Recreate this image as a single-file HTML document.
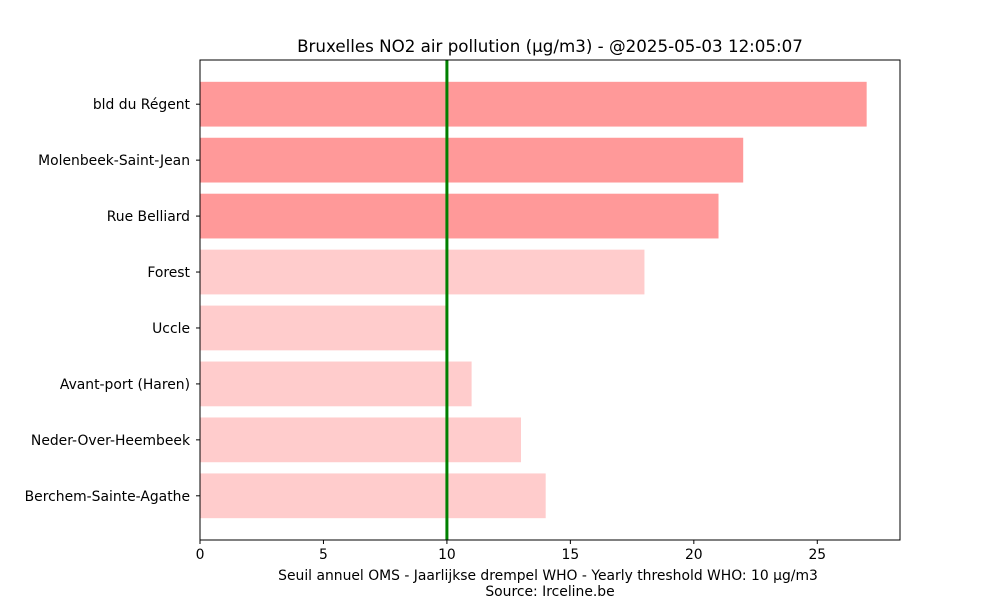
<!DOCTYPE html>
<html><head><meta charset="utf-8"><style>
body{margin:0;background:#fff;font-family:"DejaVu Sans","Liberation Sans",sans-serif}
</style></head><body>
<svg id="chart" width="1000" height="600" xmlns="http://www.w3.org/2000/svg" font-family="DejaVu Sans, Liberation Sans, sans-serif">
<rect width="1000" height="600" fill="#fff"/>
<text x="550" y="52" text-anchor="middle" font-size="16.7" fill="#000">Bruxelles NO2 air pollution (µg/m3) - @2025-05-03 12:05:07</text>
<g id="bars"></g>
<g id="xticks"></g>
<rect x="200" y="60" width="700" height="480" fill="none" stroke="#000" stroke-width="1"/>
<text x="548" y="580" text-anchor="middle" font-size="13.9">Seuil annuel OMS - Jaarlijkse drempel WHO - Yearly threshold WHO: 10 µg/m3</text>
<text x="550" y="596" text-anchor="middle" font-size="13.9">Source: Irceline.be</text>
</svg>
<script>
const categories=["bld du Régent","Molenbeek-Saint-Jean","Rue Belliard","Forest","Uccle","Avant-port (Haren)","Neder-Over-Heembeek","Berchem-Sainte-Agathe"];
const values=[27,22,21,18,10,11,13,14];
const threshold=10;
const xTicks=[0,5,10,15,20,25];
const NS="http://www.w3.org/2000/svg";
const L=200,R=900,T=60,B=540,xMax=28.35;
const x=v=>L+v/xMax*(R-L);
const n=categories.length;
const yMin=-0.4-0.05*(n-0.2), yMax=(n-1)+0.4+0.05*(n-0.2);
const y=v=>T+(v-yMin)/(yMax-yMin)*(B-T);
const bh=y(0.8)-y(0);
const bars=document.getElementById('bars');
function mk(tag,attrs,parent){const e=document.createElementNS(NS,tag);for(const k in attrs)e.setAttribute(k,attrs[k]);parent.appendChild(e);return e;}
categories.forEach((c,i)=>{
  const r=mk('rect',{x:L,y:y(i)-bh/2,width:x(values[i])-L,height:bh,fill:values[i]>20?'#ff9999':'#ffcccc'},bars);
  
  
  mk('line',{x1:L-4,x2:L,y1:y(i),y2:y(i),stroke:'#000'},bars);
  const t=mk('text',{x:L-10,y:y(i)+5,'text-anchor':'end','font-size':13.9},bars);
  t.textContent=c;
  
  
});
const tl=mk('line',{x1:x(threshold),x2:x(threshold),y1:T,y2:B,stroke:'#008000','stroke-width':3},bars);


const xt=document.getElementById('xticks');
xTicks.forEach(v=>{
  mk('line',{x1:x(v),x2:x(v),y1:B,y2:B+4,stroke:'#000'},xt);
  const t=mk('text',{x:x(v),y:B+19,'text-anchor':'middle','font-size':13.9},xt);
  t.textContent=v;
  
  
});
</script>
</body></html>
